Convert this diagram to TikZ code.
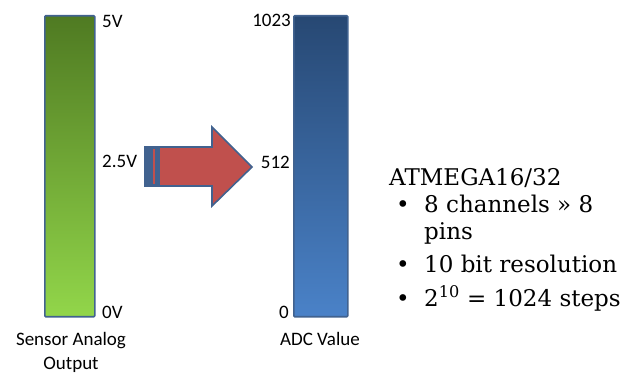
\documentclass[tikz,border=0pt]{standalone}
\usepackage{fontspec}
\setsansfont{Carlito}
\setmainfont{DejaVu Serif}
\usetikzlibrary{calc}
\definecolor{edge}{HTML}{41628F}
\definecolor{gtop}{HTML}{4F7A22}
\definecolor{gbot}{HTML}{92D64A}
\definecolor{btop}{HTML}{274873}
\definecolor{bbot}{HTML}{4A82C8}
\definecolor{arrowred}{HTML}{C0504D}
\tikzset{
  bar/.style={draw=edge, line width=1.6pt, rounded corners=1pt},
  lbl/.style={font=\sffamily\fontsize{19}{24}\selectfont, inner sep=0pt},
  bodytext/.style={font=\rmfamily\fontsize{23}{27}\selectfont, inner sep=0pt, anchor=base west},
  bul/.style={font=\rmfamily\fontsize{23}{27}\selectfont, inner sep=0pt, anchor=base west}
}
\begin{document}
\begin{tikzpicture}[x=1pt,y=-1pt]
\useasboundingbox (0,0) rectangle (640,387);
% left bar
\node[bar, top color=gtop, bottom color=gbot, minimum width=50pt, minimum height=301pt, anchor=north west, inner sep=0pt] (lbar) at (44,15) {};
\node[lbl, anchor=west] (v5) at (102,21) {5V};
\node[lbl, anchor=west] (v25) at (102,161) {2.5V};
\node[lbl, anchor=west] (v0) at (102,312) {0V};
\node[lbl, align=center, anchor=north] (sname) at (71,332) {Sensor Analog\\Output};
% right bar
\node[bar, top color=btop, bottom color=bbot, minimum width=54pt, minimum height=301pt, anchor=north west, inner sep=0pt] (rbar) at (293,15) {};
\node[lbl, anchor=east] (d1023) at (291,20) {1023};
\node[lbl, anchor=east] (d512) at (290,162) {512};
\node[lbl, anchor=east] (d0) at (289,312) {0};
\node[lbl, anchor=north] (aname) at (320,332) {ADC Value};
% arrow
\fill[edge] (145,147) rectangle (160,186);
\fill[arrowred] (152.5,149) rectangle (154.5,184);
\draw[draw=edge, line width=1.6pt, fill=arrowred, line join=miter]
  (159,147) -- (212,147) -- (212,127) -- (252,167) -- (212,206) -- (212,186) -- (159,186) -- cycle;
\draw[draw=edge, line width=1.6pt] (145,147) rectangle (159,186);
% text
\node[bodytext] (title) at (389,186) {ATMEGA16/32};
\node[bul] (b1) at (396,213) {•};
\node[bodytext] (t1) at (424,213) {8 channels » 8};
\node[bodytext] (t1b) at (424,240) {pins};
\node[bul] (b2) at (396,273) {•};
\node[bodytext] (t2) at (424,273) {10 bit resolution};
\node[bul] (b3) at (396,307) {•};
\node[bodytext] (t3) at (424,307) {2\textsuperscript{10} = 1024 steps};
\end{tikzpicture}
\end{document}
